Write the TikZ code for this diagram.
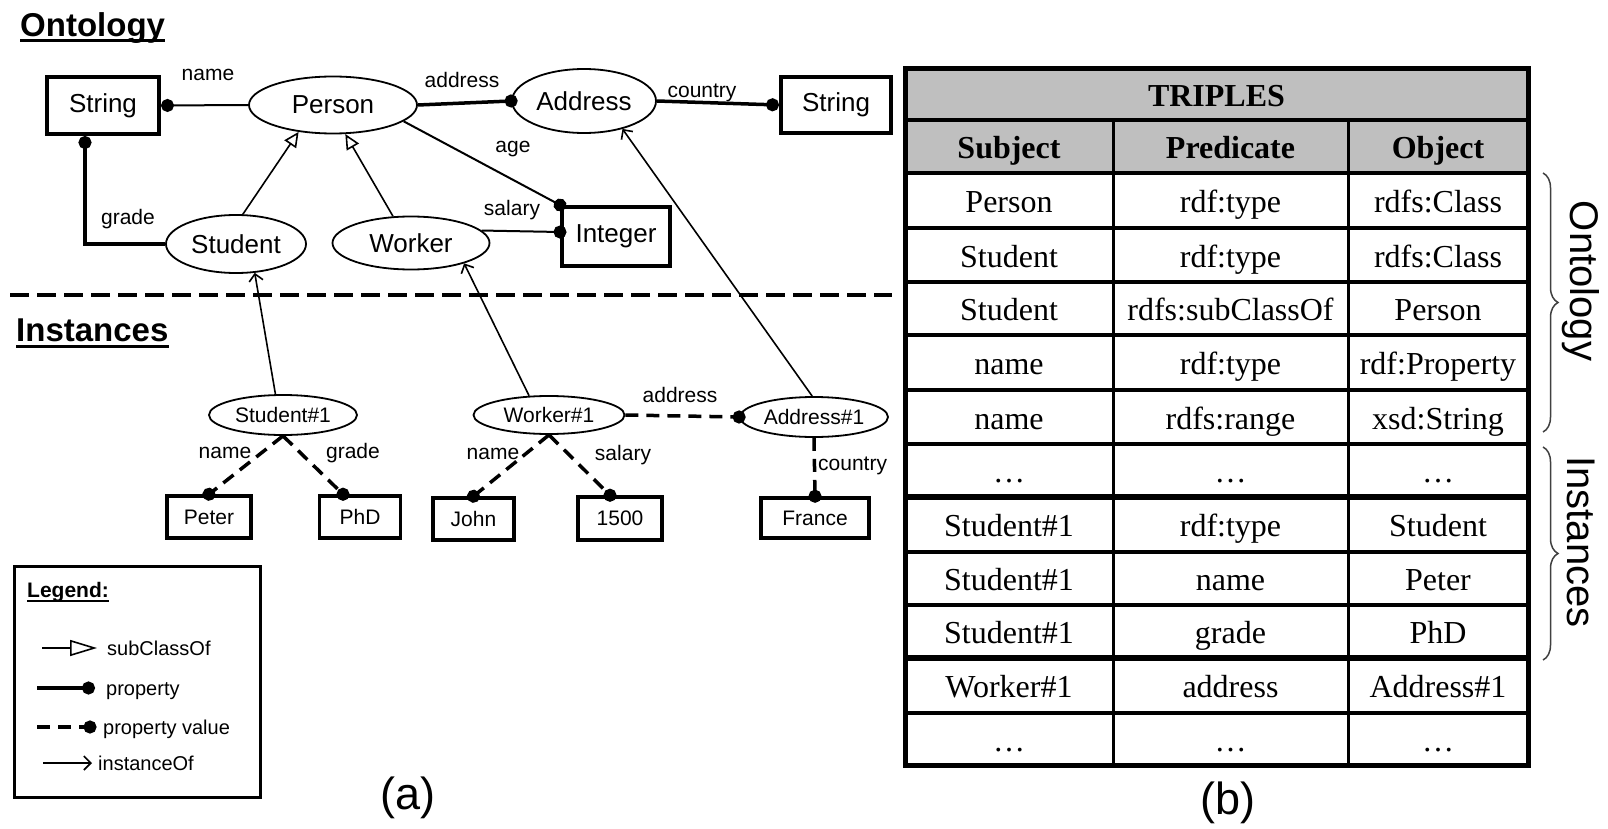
\documentclass[tikz,border=0pt]{standalone}
\usepackage{fontspec}
\setmainfont{Liberation Sans}
\newfontfamily\tabfont{Liberation Serif}
\usetikzlibrary{arrows.meta,decorations.pathreplacing,shapes.geometric,calc}
\newcommand\myfs[1]{\fontsize{#1}{#1}\selectfont}
\begin{document}
\begin{tikzpicture}[x=1pt,y=-1pt,
  cls/.style={ellipse, draw, line width=1.8pt, inner sep=0pt, font=\myfs{26}},
  lit/.style={rectangle, draw, line width=4pt, inner sep=0pt, font=\myfs{26}},
  icls/.style={ellipse, draw, line width=1.8pt, inner sep=0pt, font=\myfs{21}},
  ilit/.style={rectangle, draw, line width=3.5pt, inner sep=0pt, font=\myfs{21}},
  elab/.style={font=\myfs{21}, inner sep=0pt, text height=.75em, text depth=.25em},
  ttl/.style={font=\bfseries\myfs{33}, inner sep=0pt, anchor=base west},
  prop/.style={line width=3.5pt, -{Circle[length=13pt,width=13pt]}},
  propthin/.style={line width=2pt, -{Circle[length=13pt,width=13pt]}},
  pval/.style={line width=3.5pt, dash pattern=on 13pt off 8pt, -{Circle[length=13pt,width=13pt]}, shorten >=-6.5pt},
  subc/.style={line width=1.6pt, -{Triangle[open,length=15pt,width=14pt,fill=white]}},
  inst/.style={line width=1.6pt, -{Straight Barb[length=7pt,width=14pt]}},
  cell/.style={font=\tabfont\myfs{32}, inner sep=0pt, anchor=base},
  hcell/.style={font=\tabfont\bfseries\myfs{32}, inner sep=0pt, anchor=base},
  legtxt/.style={font=\myfs{20}, inner sep=0pt, anchor=base west},
  side/.style={font=\myfs{40}, inner sep=0pt, rotate=-90},
  brc/.style={decorate, decoration={brace, amplitude=15pt}, line width=1.5pt, draw=black!75},
]
\fill[white] (0,0) rectangle (1608,829);
\useasboundingbox (0,0) rectangle (1608,829);

% ---------- titles ----------
\node[ttl] (tOnt) at (20,37) {Ontology};
\draw[line width=3pt] ([yshift=-4pt]tOnt.base west) -- ([yshift=-4pt]tOnt.base east);
\node[ttl] (tInst) at (16,341) {Instances};
\draw[line width=3pt] ([yshift=-5pt]tInst.base west) -- ([yshift=-5pt]tInst.base east);

% separator
\coordinate (sepL) at (10,295);
\coordinate (sepR) at (892,295);
\draw[line width=3.5pt, dash pattern=on 19pt off 8pt] (sepL) -- (sepR);

% ---------- ontology nodes ----------
\node[lit, minimum width=112pt, minimum height=57pt] (String1) at (103,105.5) {String};
\node[cls, minimum width=168pt, minimum height=57pt] (Person) at (333,105) {Person};
\node[cls, minimum width=144pt, minimum height=64pt] (Address) at (584,101) {Address};
\node[lit, minimum width=110pt, minimum height=56pt] (String2) at (836,105) {String};
\node[cls, minimum width=140pt, minimum height=58pt] (Student) at (236,244) {Student};
\node[cls, minimum width=157pt, minimum height=53pt] (Worker) at (411,243) {Worker};
\node[lit, minimum width=108pt, minimum height=59pt] (Integer) at (616,236.5) {Integer};

% ontology edges
\draw[propthin] (Person.west) -- (String1.east);
\node[elab] (lName) at (208,78) {name};
\draw[prop] (Student.west) -| ([xshift=-18pt]String1.south);
\node[elab] (lGrade) at (128,222) {grade};
\draw[prop, shorten >=-6.5pt] (Person.east) -- (Address.west);
\node[elab] (lAddr) at (462,85) {address};
\draw[prop] (Address.east) -- (String2.west);
\node[elab] (lCountry) at (702,95) {country};
\draw[propthin, shorten >=-6.5pt] (Person.-13) -- (Integer.north west);
\node[elab] (lAge) at (513,150) {age};
\coordinate (salEnd) at ([yshift=4.5pt]Integer.west);
\draw[propthin, shorten >=-6.5pt] (Worker.10) -- (salEnd);
\node[elab] (lSalary) at (512,213) {salary};
\draw[subc] (Student.77) -- (Person.-142);
\draw[subc] (Worker.124) -- (Person.-67);

% ---------- instance nodes ----------
\node[icls, minimum width=148pt, minimum height=40pt] (Student1) at (283,415) {Student\#1};
\node[icls, minimum width=151pt, minimum height=38pt] (Worker1) at (549,415) {Worker\#1};
\node[icls, minimum width=148pt, minimum height=40pt] (Address1) at (814,417) {Address\#1};
\node[ilit, minimum width=84pt, minimum height=42pt] (Peter) at (209,517) {Peter};
\node[ilit, minimum width=81pt, minimum height=42pt] (PhD) at (360,517) {PhD};
\node[ilit, minimum width=81pt, minimum height=42pt] (John) at (473.5,519) {John};
\node[ilit, minimum width=84pt, minimum height=43pt] (N1500) at (620,518.5) {1500};
\node[ilit, minimum width=108pt, minimum height=40pt] (France) at (815,518) {France};

% instance edges
\draw[inst] (Student1.110) -- (Student.-57);
\draw[inst] (Worker1.136) -- (Worker.-21);
\draw[inst] (Address1.95) -- (Address.-36);
\draw[pval] (Student1.south) -- (Peter.north);
\node[elab] (liName1) at (225,456) {name};
\draw[pval] (Student1.south) -- ([xshift=-17pt]PhD.north);
\node[elab] (liGrade) at (353,456) {grade};
\draw[pval] (Worker1.south) -- (John.north);
\node[elab] (liName2) at (493,457) {name};
\draw[pval] (Worker1.south) -- ([xshift=-10pt]N1500.north);
\node[elab] (liSalary) at (623,458) {salary};
\draw[pval] (Worker1.east) -- (Address1.west);
\node[elab] (liAddr) at (680,400) {address};
\draw[pval] (Address1.south) -- (France.north);
\node[elab, anchor=west] (liCountry) at (818,468) {country};

% ---------- legend ----------
\node[draw, line width=3pt, rectangle, minimum width=246pt, minimum height=231pt, inner sep=0pt] (legbox) at (137,681.5) {};
\node[font=\bfseries\myfs{21}, inner sep=0pt, anchor=base west] (legT) at (27,597) {Legend:};
\draw[line width=2.5pt] ([yshift=-4pt]legT.base west) -- ([yshift=-4pt]legT.base east);
\coordinate (lg1a) at (42,648); \coordinate (lg1b) at (97,648);
\draw[line width=1.6pt, -{Triangle[open,length=27pt,width=16pt,fill=white]}] (lg1a) -- (lg1b);
\node[legtxt] (lgt1) at (107,655) {subClassOf};
\coordinate (lg2a) at (37,688); \coordinate (lg2b) at (95,688);
\draw[prop] (lg2a) -- (lg2b);
\node[legtxt] (lgt2) at (106,695) {property};
\coordinate (lg3a) at (37,727); \coordinate (lg3b) at (90,727);
\draw[pval] (lg3a) -- (lg3b);
\node[legtxt] (lgt3) at (103,734) {property value};
\coordinate (lg4a) at (43,763); \coordinate (lg4b) at (92,763);
\draw[inst] (lg4a) -- (lg4b);
\node[legtxt] (lgt4) at (98,770) {instanceOf};

\node[font=\myfs{45}, inner sep=0pt] (capA) at (408,798) {(a)};
\node[font=\myfs{45}, inner sep=0pt] (capB) at (1228,803) {(b)};

% ---------- table ----------
\fill[black!25] (905,69) rectangle (1528,173);
\foreach \yy in {120,173,228,282,335,390,444,552,605,713}
  \draw[line width=3.5pt] (905,\yy) -- (1528,\yy);
\foreach \yy in {497,658}
  \draw[line width=5.5pt] (905,\yy) -- (1528,\yy);
\draw[line width=3pt] (1113,120) -- (1113,765);
\draw[line width=3pt] (1348,120) -- (1348,765);
\draw[line width=5pt] (905,69) rectangle (1528,765);

\node[hcell] (hTriples) at (1216.5,106.5) {TRIPLES};
\node[hcell] (hSub) at (1009,158.5) {Subject};
\node[hcell] (hPred) at (1230.5,158.5) {Predicate};
\node[hcell] (hObj) at (1438,158.5) {Object};

\foreach \y/\a/\b/\c [count=\i] in {
  200.5/Person/rdf:type/rdfs:Class,
  255/Student/rdf:type/rdfs:Class,
  308.5/Student/rdfs:subClassOf/Person,
  362.5/name/rdf:type/rdf:Property,
  417/name/rdfs:range/xsd:String,
  470.5/\ldots/\ldots/\ldots,
  524.5/Student\#1/rdf:type/Student,
  578.5/Student\#1/name/Peter,
  631.5/Student\#1/grade/PhD,
  685.5/Worker\#1/address/Address\#1,
  739/\ldots/\ldots/\ldots}{
  \node[cell] (sub\i) at (1009,\y+12) {\a};
  \node[cell] (pre\i) at (1230.5,\y+12) {\b};
  \node[cell] (obj\i) at (1438,\y+12) {\c};
}

% braces and side labels
\coordinate (bo1) at (1543,173); \coordinate (bo2) at (1543,432);
\draw[brc] (bo1) -- (bo2);
\coordinate (bi1) at (1543,447); \coordinate (bi2) at (1543,660);
\draw[brc] (bi1) -- (bi2);
\node[side] (sOnt) at (1581,281) {Ontology};
\node[side] (sInst) at (1581,542) {Instances};
\end{tikzpicture}
\end{document}
